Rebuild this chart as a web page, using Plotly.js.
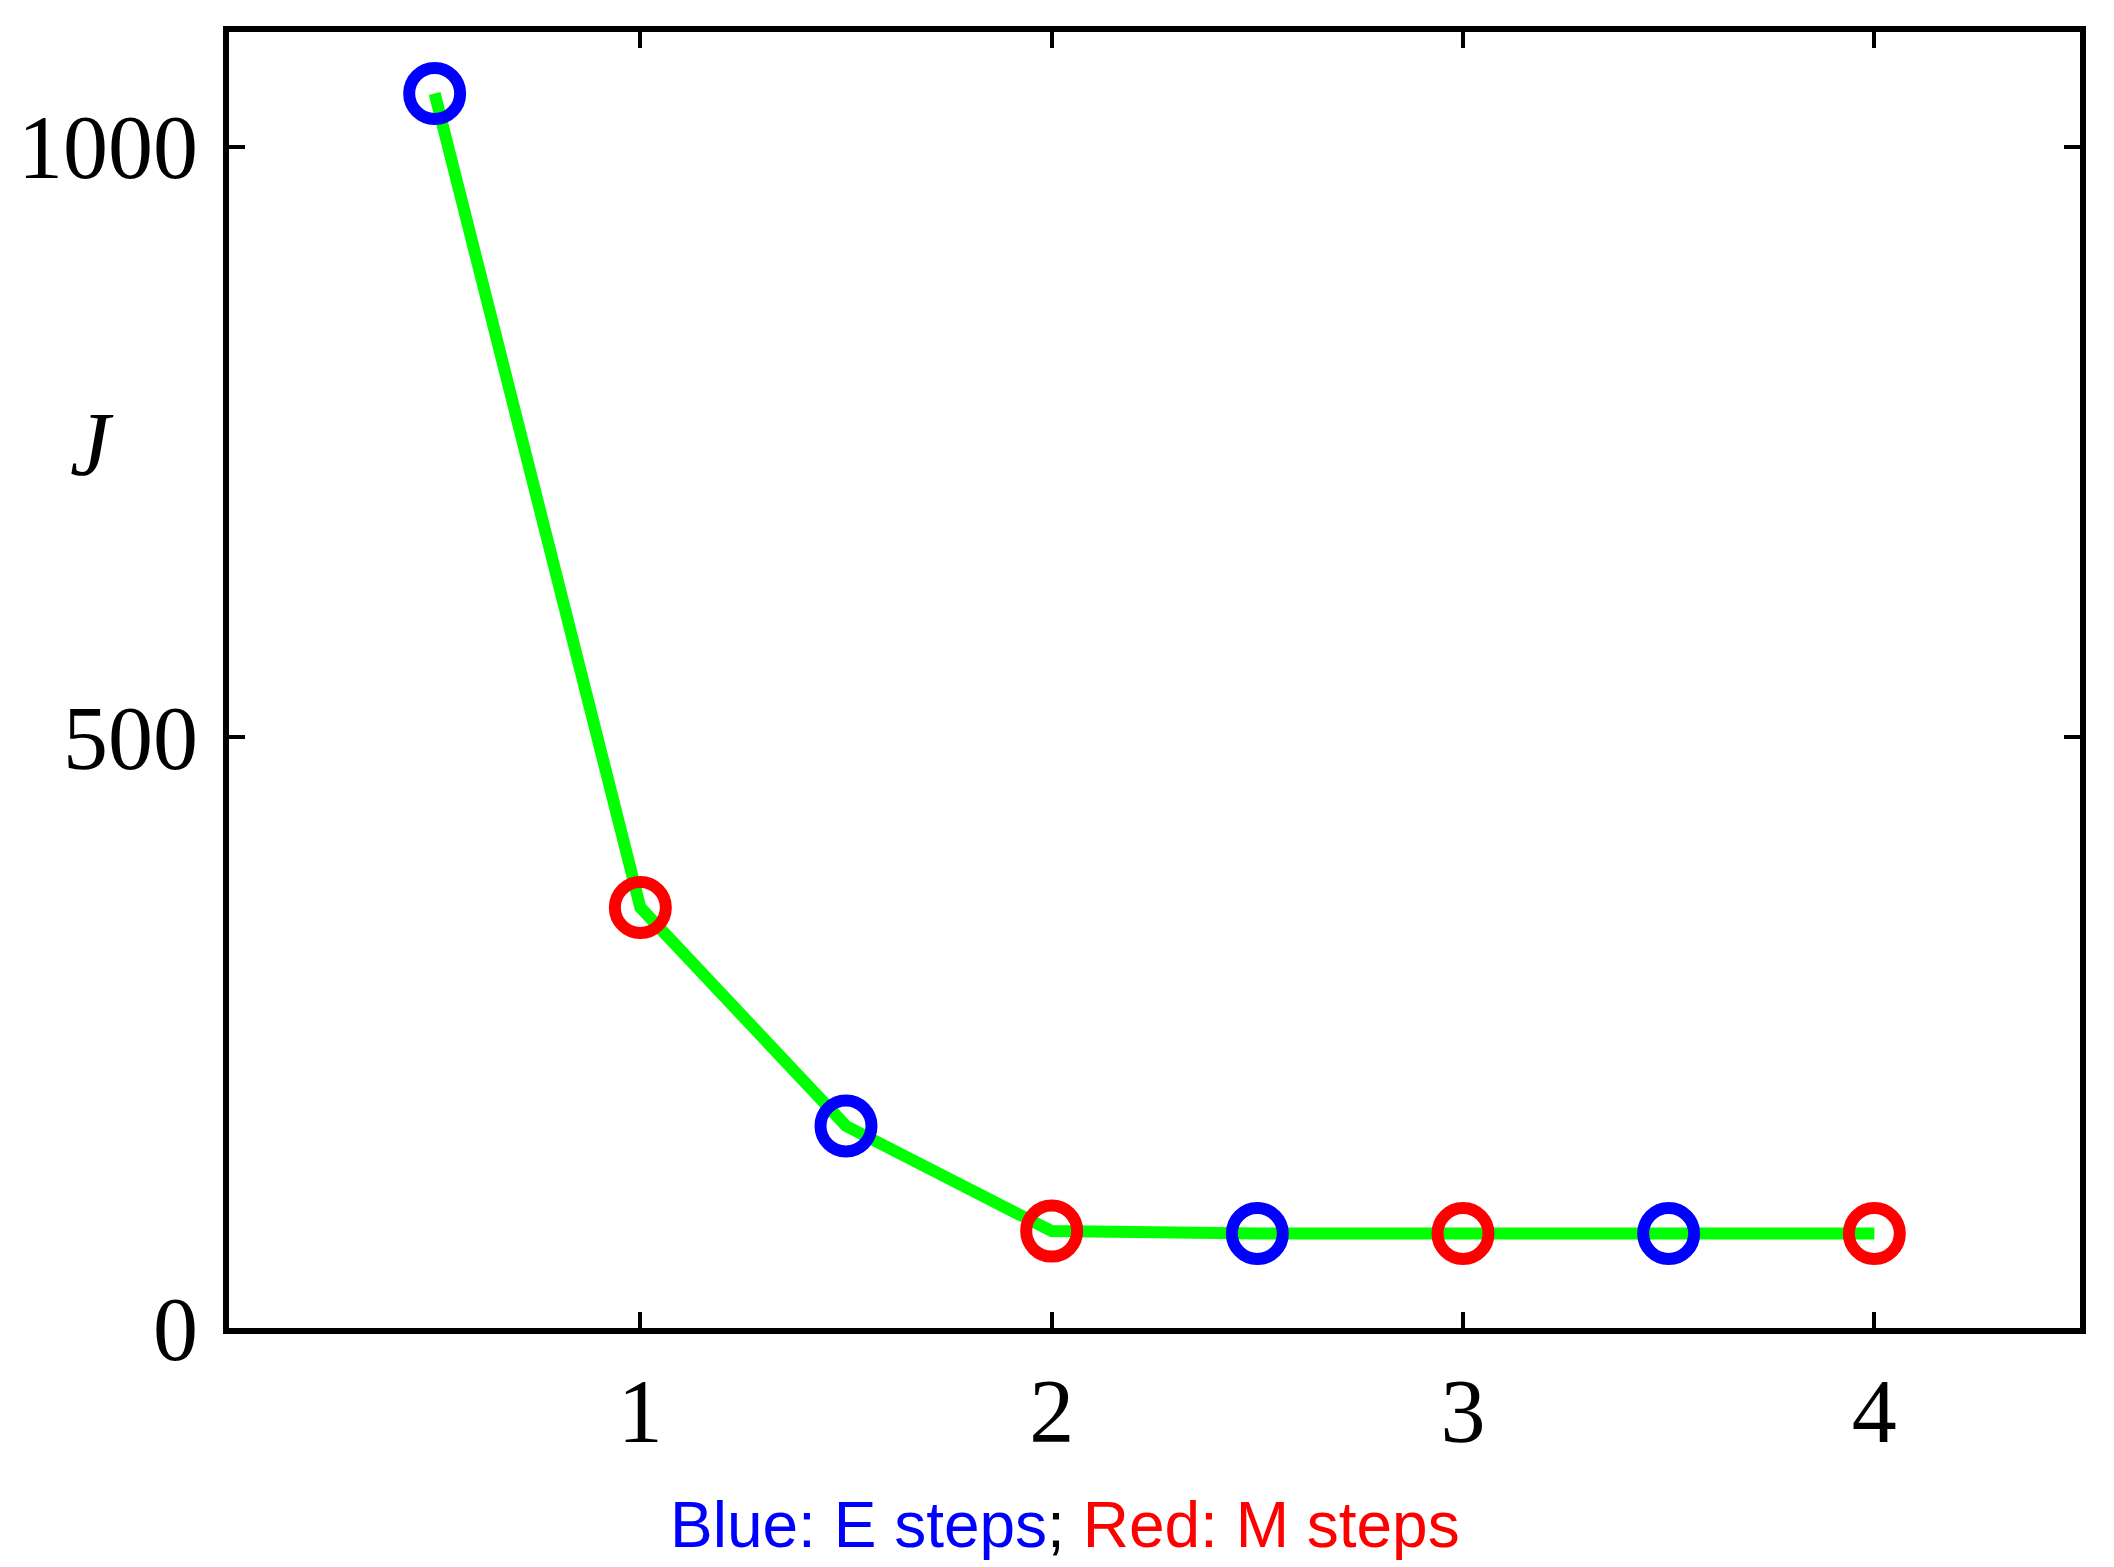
<!DOCTYPE html>
<html>
<head>
<meta charset="utf-8">
<script src="https://cdn.plot.ly/plotly-3.0.1.min.js"></script>
<style>html,body{margin:0;padding:0;background:#fff;}#chart{width:2114px;height:1567px;}</style>
</head>
<body>
<div id="chart"></div>
<script>
// Data
const steps = [0.5, 1, 1.5, 2, 2.5, 3, 3.5, 4];
const J = [1045, 356, 171, 82, 80, 80, 80, 80];
const stepType = ['E', 'M', 'E', 'M', 'E', 'M', 'E', 'M'];
const xTicks = [1, 2, 3, 4];
const yTicks = [0, 500, 1000];
const typeColor = {E: '#0000ff', M: '#ff0000'};

const trace = {
  x: steps,
  y: J,
  mode: 'lines+markers',
  type: 'scatter',
  line: {color: '#00ff00', width: 12},
  marker: {
    symbol: 'circle-open',
    size: 51,
    color: stepType.map(t => typeColor[t]),
    line: {width: 12, color: stepType.map(t => typeColor[t])}
  },
  showlegend: false,
  cliponaxis: false
};

const axisCommon = {
  showgrid: false,
  zeroline: false,
  showline: true,
  linecolor: '#000',
  linewidth: 6,
  mirror: 'ticks',
  ticks: 'inside',
  ticklen: 16,
  tickwidth: 4,
  tickcolor: '#000',
  tickfont: {family: 'Liberation Serif', size: 90, color: '#000'}
};

const layout = {
  width: 2114,
  height: 1567,
  margin: {l: 229, r: 34, t: 32, b: 239},
  paper_bgcolor: '#fff',
  plot_bgcolor: '#fff',
  xaxis: Object.assign({}, axisCommon, {
    range: [0, 4.5],
    tickmode: 'array',
    tickvals: xTicks,
    ticktext: xTicks.map(String),
    ticklabelstandoff: 0
  }),
  yaxis: Object.assign({}, axisCommon, {
    range: [0, 1097],
    tickmode: 'array',
    tickvals: yTicks,
    ticktext: yTicks.map(String),
    ticklabelstandoff: 7
  }),
  annotations: [
    {
      text: '<i>J</i>',
      xref: 'paper', yref: 'paper',
      x: -0.074, y: 0.6815,
      xanchor: 'center', yanchor: 'middle',
      showarrow: false,
      font: {family: 'Liberation Serif', size: 90, color: '#000'}
    },
    {
      text: '<span style="color:#0000ff">Blue: E steps</span>; <span style="color:#ff0000">Red: M steps</span>',
      xref: 'paper', yref: 'paper',
      x: 0.4517, y: -0.152,
      xanchor: 'center', yanchor: 'middle',
      showarrow: false,
      font: {family: 'Liberation Sans', size: 64, color: '#000'}
    }
  ]
};

Plotly.newPlot('chart', [trace], layout, {displayModeBar: false, staticPlot: true});
</script>
</body>
</html>
